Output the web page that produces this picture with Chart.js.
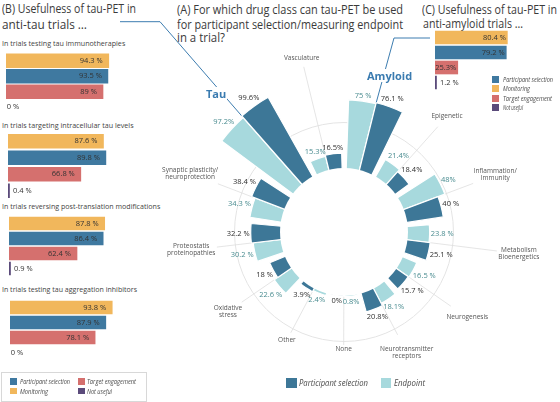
<!DOCTYPE html>
<html><head><meta charset="utf-8">
<script src="https://cdn.jsdelivr.net/npm/chart.js@4.4.1/dist/chart.umd.min.js"></script>
<style>
html,body{margin:0;padding:0;background:#fff;}
body{width:560px;height:402px;overflow:hidden;position:relative;font-family:"Open Sans",sans-serif;color:#3a3a3a;}
.a{position:absolute;white-space:nowrap;transform-origin:left center;}
canvas{position:absolute;}
.title{font-size:13px;line-height:15px;color:#3a3a3a;}
.sub{font-size:7px;line-height:9px;color:#444;}
.lg{font-size:7px;line-height:9px;font-style:italic;color:#4a4a4a;}
.lgA{font-size:9px;line-height:11px;font-style:italic;color:#4a4a4a;}
.sq{position:absolute;}
.big{font-size:11px;line-height:13px;font-weight:bold;color:#3a7bb0;background:#fff;padding:0 1px;}
</style></head><body>

<!-- connectors -->
<svg class="a" style="left:0;top:0" width="560" height="402">
  <polyline id="conB" points="" fill="none" stroke="#3d7db0" stroke-width="1"/>
  <polyline id="conC" points="" fill="none" stroke="#3d7db0" stroke-width="1"/>
</svg>

<!-- titles -->
<div class="a title" data-w="134" style="left:1.7px;top:1.2px">(B) Usefulness of tau-PET in</div>
<div class="a title" data-w="85" style="left:1.7px;top:16.5px">anti-tau trials …</div>
<div class="a title" data-w="226" style="left:176.7px;top:1.5px">(A) For which drug class can tau-PET be used</div>
<div class="a title" data-w="226" style="left:176.7px;top:16.5px">for participant selection/measuring endpoint</div>
<div class="a title" data-w="48" style="left:176.7px;top:30px">in a trial?</div>
<div class="a title" data-w="135" style="left:421.7px;top:1.5px">(C) Usefulness of tau-PET in</div>
<div class="a title" data-w="100" style="left:423px;top:15.5px">anti-amyloid trials …</div>

<!-- B subtitles -->
<div class="a sub" data-w="123.3" style="left:1.7px;top:38.5px">In trials testing tau immunotherapies</div>
<div class="a sub" data-w="131.6" style="left:1.7px;top:120.5px">In trials targeting intracellular tau levels</div>
<div class="a sub" data-w="158.3" style="left:1.7px;top:201.5px">In trials reversing post-translation modifications</div>
<div class="a sub" data-w="135" style="left:1.7px;top:284.8px">In trials testing tau aggregation inhibitors</div>

<canvas id="polar" width="420" height="370" style="left:134px;top:47px"></canvas>
<canvas id="b1" width="150" height="62" style="left:6px;top:53px"></canvas>
<canvas id="b2" width="150" height="66" style="left:8px;top:133px"></canvas>
<canvas id="b3" width="150" height="60" style="left:9px;top:216px"></canvas>
<canvas id="b4" width="150" height="60" style="left:10px;top:300px"></canvas>
<canvas id="c1" width="125" height="60" style="left:435px;top:30px"></canvas>

<div class="a big" style="left:205px;top:86.5px">Tau</div>
<div class="a big" style="left:366px;top:68.5px">Amyloid</div>

<!-- B legend -->
<div class="a" style="left:1px;top:372px;width:144px;height:28px;border:1px solid #d8d8d8;"></div>
<div class="sq" style="left:10px;top:378.3px;width:6.7px;height:6.7px;background:#3f79a0"></div>
<div class="sq" style="left:10px;top:387.7px;width:6.7px;height:6.7px;background:#f1b75c"></div>
<div class="sq" style="left:78.3px;top:378.3px;width:6.7px;height:6.7px;background:#d5706e"></div>
<div class="sq" style="left:78.3px;top:387.7px;width:6.7px;height:6.7px;background:#5b4b7b"></div>
<div class="a lg" data-w="50" style="left:20px;top:377.2px">Participant selection</div>
<div class="a lg" data-w="28" style="left:20px;top:386.5px">Monitoring</div>
<div class="a lg" data-w="49" style="left:87.3px;top:377.2px">Target engagement</div>
<div class="a lg" data-w="25" style="left:87.3px;top:386.5px">Not useful</div>

<!-- C legend -->
<div class="sq" style="left:491.7px;top:75.5px;width:7.6px;height:7px;background:#3f79a0"></div>
<div class="sq" style="left:491.7px;top:85px;width:7.6px;height:7px;background:#f1b75c"></div>
<div class="sq" style="left:491.7px;top:94.5px;width:7.6px;height:7px;background:#d5706e"></div>
<div class="sq" style="left:491.7px;top:104px;width:7.6px;height:7px;background:#5b4b7b"></div>
<div class="a lg" data-w="50" style="left:502.7px;top:74.5px">Participant selection</div>
<div class="a lg" data-w="27" style="left:502.7px;top:84px">Monitoring</div>
<div class="a lg" data-w="49" style="left:502.7px;top:93.5px">Target engagement</div>
<div class="a lg" data-w="20" style="left:502.7px;top:103px">Not useful</div>

<!-- A legend -->
<div class="sq" style="left:286px;top:377.7px;width:10.7px;height:10px;background:#3d7797"></div>
<div class="a lgA" data-w="69" style="left:299.3px;top:377.2px">Participant selection</div>
<div class="sq" style="left:380.7px;top:377.7px;width:10.3px;height:10px;background:#a7d9dd"></div>
<div class="a lgA" data-w="31" style="left:394px;top:377.2px">Endpoint</div>

<script>
// ---------- DATA ----------
const categories = ['Amyloid','Epigenetic','Inflammation/\nImmunity','Metabolism\nBioenergetics','Neurogenesis','Neurotransmitter\nreceptors','None','Other','Oxidative\nstress','Proteostatis\nproteinopathies','Synaptic plasticity/\nneuroprotection','Tau','Vasculature'];
const endpoint    = [75, 21.4, 48, 23.8, 16.5, 18.1, 0.8, 2.4, 22.6, 30.2, 34.3, 97.2, 15.3];
const participant = [76.1, 18.4, 40, 25.1, 15.7, 20.8, 0, 3.9, 18, 32.2, 38.4, 99.6, 16.5];
const endpointLabels    = ['75 %','21.4%','48%','23.8 %','16.5 %','18.1%','0.8%','2.4%','22.6 %','30.2 %','34.3 %','97.2%','15.3%'];
const participantLabels = ['76.1 %','18.4%','40 %','25.1 %','15.7 %','20.8%','0%','3.9%','18 %','32.2 %','38.4 %','99.6%','16.5%'];

const usefulRows = ['Monitoring','Participant selection','Target engagement','Not useful'];
const tauImmuno      = [94.3, 93.5, 89, 0];
const tauIntracell   = [87.6, 89.8, 66.8, 0.4];
const tauPostTrans   = [87.8, 86.4, 62.4, 0.9];
const tauAggregation = [93.8, 87.9, 78.1, 0];
const antiAmyloid    = [80.4, 79.2, 25.3, 1.2];
const antiAmyloidLabels = ['80.4 %','79.2 %','25.3%','1.2 %'];

// ---------- STYLE / LAYOUT ----------
const COL = {mon:'#f1b75c', ps:'#3f79a0', te:'#d5706e', nu:'#5b4b7b', psA:'#3d7797', epA:'#a7d9dd'};
const rowColors = [COL.mon, COL.ps, COL.te, COL.nu];
const R_MIN = -70.33, R_MAX = 133.0;
const SLOT_BAR = 12, SLOT_GAP = 360/categories.length - 2*SLOT_BAR;
const spokeR = [null, 141, 138, 154, 130, 116, 113, 114, 124, 128, 135, null, 170];
const FONT = '"Open Sans", sans-serif';

// fit HTML texts
document.querySelectorAll('[data-w]').forEach(el=>{
  const w = el.getBoundingClientRect().width;
  if (w>0) el.style.transform = 'scaleX(' + (parseFloat(el.dataset.w)/w) + ')';
});

// ---------- POLAR (A) ----------
const pData=[], pColors=[], pAngles=[], pKinds=[], pBorder=[];
categories.forEach((c,i)=>{
  pData.push(endpoint[i]);    pColors.push(COL.epA); pAngles.push(SLOT_BAR); pKinds.push(['ep',i]); pBorder.push(1.2);
  pData.push(participant[i]); pColors.push(COL.psA); pAngles.push(SLOT_BAR); pKinds.push(['ps',i]); pBorder.push(1.2);
  pData.push(R_MIN);          pColors.push('rgba(0,0,0,0)'); pAngles.push(SLOT_GAP); pKinds.push(['gap',i]); pBorder.push(0);
});
const pLabels = pKinds.map(k=>categories[k[1]]);

function catAngle(meta,i){ return (meta.data[3*i].startAngle + meta.data[3*i+1].endAngle)/2; }
function radialText(ctx, cx, cy, a, r, lines, lh, pad){
  let w = 0; lines.forEach(t=>{ w = Math.max(w, ctx.measureText(t).width); });
  const h = lines.length*lh;
  const off = w/2*Math.abs(Math.cos(a)) + h/2*Math.abs(Math.sin(a)) + pad;
  const x = cx + (r+off)*Math.cos(a), y = cy + (r+off)*Math.sin(a);
  lines.forEach((t,j)=>{ ctx.fillText(t, x, y - h/2 + lh*(j+0.5)); });
}

const polarDeco = {
  id:'polarDeco',
  beforeDatasetsDraw(chart){
    const s = chart.scales.r, ctx = chart.ctx, cx = s.xCenter, cy = s.yCenter;
    const meta = chart.getDatasetMeta(0);
    const r0 = s.getDistanceFromCenterForValue(0);
    ctx.save();
    ctx.strokeStyle = '#e4e4e4'; ctx.lineWidth = 1;
    ctx.beginPath(); ctx.arc(cx, cy, s.getDistanceFromCenterForValue(50), 0, Math.PI*2); ctx.stroke();
    ctx.strokeStyle = '#dedede'; ctx.lineWidth = 0.8;
    categories.forEach((c,i)=>{
      if (spokeR[i]==null) return;
      const a = catAngle(meta,i);
      ctx.beginPath();
      ctx.moveTo(cx + r0*Math.cos(a), cy + r0*Math.sin(a));
      ctx.lineTo(cx + spokeR[i]*Math.cos(a), cy + spokeR[i]*Math.sin(a));
      ctx.stroke();
    });
    ctx.restore();
  },
  afterDatasetsDraw(chart){
    const s = chart.scales.r, ctx = chart.ctx, cx = s.xCenter, cy = s.yCenter;
    const meta = chart.getDatasetMeta(0);
    const r0 = s.getDistanceFromCenterForValue(0);
    ctx.save();
    ctx.fillStyle = '#fff';
    ctx.beginPath(); ctx.arc(cx, cy, r0, 0, Math.PI*2); ctx.fill();
    // value labels
    ctx.font = '7.5px ' + FONT; ctx.textAlign = 'center'; ctx.textBaseline = 'middle';
    meta.data.forEach((el,k)=>{
      const kind = pKinds[k][0], i = pKinds[k][1];
      if (kind==='gap') return;
      const a = (el.startAngle + el.endAngle)/2;
      ctx.fillStyle = kind==='ep' ? '#4a8c90' : '#2e2e2e';
      const txt = kind==='ep' ? endpointLabels[i] : participantLabels[i];
      radialText(ctx, cx, cy, a, el.outerRadius, [txt], 6.5, 1);
    });
    // category labels
    ctx.font = '6.5px ' + FONT; ctx.fillStyle = '#555';
    categories.forEach((c,i)=>{
      if (spokeR[i]==null) return;
      radialText(ctx, cx, cy, catAngle(meta,i), spokeR[i], c.split('\n'), 7, 1);
    });
    ctx.restore();
  }
};

const polar = new Chart(document.getElementById('polar'), {
  type:'polarArea',
  data:{ labels:pLabels, datasets:[{ data:pData, backgroundColor:pColors, borderColor:'#ffffff', borderWidth:pBorder, angle:pAngles }]},
  options:{
    responsive:false, animation:false, events:[],
    layout:{padding:0},
    plugins:{legend:{display:false}, tooltip:{enabled:false}},
    scales:{ r:{ min:R_MIN, max:R_MAX, startAngle:2,
      ticks:{display:false}, grid:{display:false}, angleLines:{display:false}, pointLabels:{display:false} } }
  },
  plugins:[polarDeco]
});

// connectors
(function(){
  const s = polar.scales.r, meta = polar.getDatasetMeta(0);
  const rect = document.getElementById('polar').getBoundingClientRect();
  function tip(i){
    const a = catAngle(meta,i);
    const r = s.getDistanceFromCenterForValue(Math.max(endpoint[i], participant[i]));
    return (rect.left + s.xCenter + r*Math.cos(a)).toFixed(1) + ',' + (rect.top + s.yCenter + r*Math.sin(a)).toFixed(1);
  }
  document.getElementById('conB').setAttribute('points', '120,21.7 160,21.7 ' + tip(11));
  document.getElementById('conC').setAttribute('points', '430,38 394,38 ' + tip(0));
})();

// ---------- BARS (B, C) ----------
const barLabels = {
  id:'barLabels',
  afterDatasetsDraw(chart, args, opts){
    const ctx = chart.ctx, xs = chart.scales.x, ys = chart.scales.y;
    const vals = chart.data.datasets[0].raw;
    ctx.save();
    ctx.font = '7.5px ' + FONT; ctx.fillStyle = '#333'; ctx.textBaseline = 'middle';
    vals.forEach((v,i)=>{
      const y = ys.getPixelForValue(i);
      const txt = opts.labels ? opts.labels[i] : (v + ' %');
      let xe = xs.getPixelForValue(v);
      if (i < 3){ ctx.textAlign = 'right'; ctx.fillText(txt, xe - opts.inset, y); }
      else {
        ctx.textAlign = 'left';
        if (v > 0) xe = Math.max(xe, xs.getPixelForValue(0) + 1.5);
        ctx.fillText(txt, xe + (v > 0 ? 3.5 : 0.8), y);
      }
    });
    ctx.restore();
  }
};

function makeBars(id, vals, pxPer, thick, inset, labels){
  const cv = document.getElementById(id);
  return new Chart(cv, {
    type:'bar',
    data:{ labels:usefulRows, datasets:[{ data:vals.map(v=>v===0?null:v), raw:vals, backgroundColor:rowColors,
      barThickness:thick, minBarLength:1.5, borderWidth:0 }]},
    options:{ indexAxis:'y', responsive:false, animation:false, events:[], layout:{padding:0},
      plugins:{ legend:{display:false}, tooltip:{enabled:false}, barLabels:{inset:inset, labels:labels||null} },
      scales:{ x:{display:false, min:0, max:cv.width/pxPer}, y:{display:false} } },
    plugins:[barLabels]
  });
}
makeBars('b1', tauImmuno, 1.09, 14, 6);
makeBars('b2', tauIntracell, 1.09, 14, 6);
makeBars('b3', tauPostTrans, 1.09, 13, 6);
makeBars('b4', tauAggregation, 1.09, 13, 6);
makeBars('c1', antiAmyloid, 0.9, 13, 1.5, antiAmyloidLabels);
</script>
</body></html>
